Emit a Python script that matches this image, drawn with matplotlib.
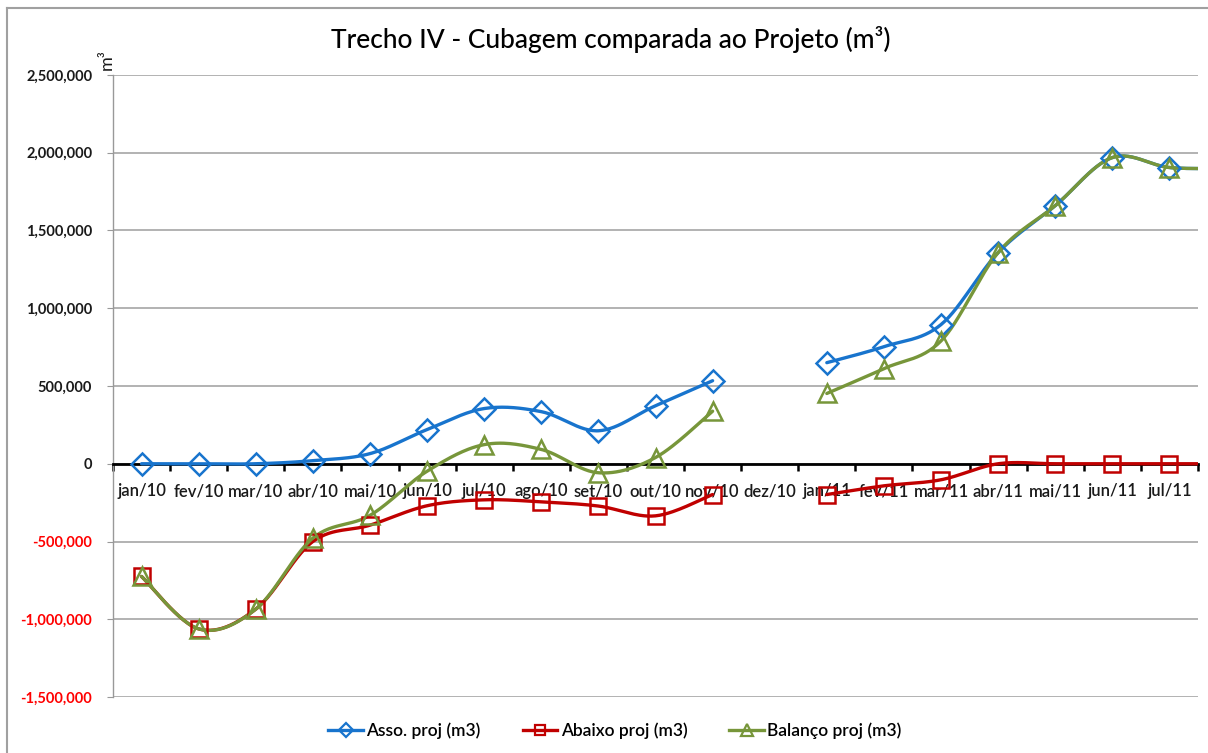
import numpy as np
import matplotlib
matplotlib.use("Agg")
import matplotlib.pyplot as plt
from matplotlib.lines import Line2D
from matplotlib.ticker import FuncFormatter, FixedLocator

# dados (dez/10 sem valor; ago/11 fica fora do eixo, só o início da curva aparece)
MESES = ["jan/10", "fev/10", "mar/10", "abr/10", "mai/10", "jun/10", "jul/10",
         "ago/10", "set/10", "out/10", "nov/10", "dez/10", "jan/11", "fev/11",
         "mar/11", "abr/11", "mai/11", "jun/11", "jul/11", "ago/11"]
ASSO = [0, 0, 0, 20000, 65000, 220000, 355000, 335000, 212000, 373000, 534000,
        np.nan, 650000, 753000, 895000, 1358000, 1660000, 1969000, 1905000, 1900000]
ABAIXO = [-725000, -1062000, -935000, -500000, -395000, -270000, -232000, -245000,
          -272000, -335000, -198000, np.nan, -198000, -142000, -103000, 0, 0, 0, 0, 0]
BALANCO = [-725000, -1062000, -935000, -478000, -332000, -48000, 123000, 92000,
           -58000, 40000, 338000, np.nan, 452000, 612000, 790000, 1358000, 1660000,
           1969000, 1905000, 1900000]

SERIES = [
    ("Asso. proj (m3)", ASSO, "#1874CD", "D", 11),
    ("Abaixo proj (m3)", ABAIXO, "#C00000", "s", 12),
    ("Balanço proj (m3)", BALANCO, "#77963A", "^", 13),
]

FONTE = ["Lato", "DejaVu Sans"]
plt.rcParams["font.family"] = FONTE


def suavizar(xs, ys, n=30):
    # curva suave estilo Excel (Catmull-Rom em Bezier)
    xs = np.asarray(xs, float)
    ys = np.asarray(ys, float)
    if len(xs) < 2:
        return xs, ys
    px = np.concatenate([[xs[0]], xs, [xs[-1]]])
    py = np.concatenate([[ys[0]], ys, [ys[-1]]])
    out_x, out_y = [], []
    t = np.linspace(0, 1, n)
    for i in range(1, len(px) - 2):
        p0 = np.array([px[i], py[i]])
        p3 = np.array([px[i + 1], py[i + 1]])
        c1 = p0 + (p3 - np.array([px[i - 1], py[i - 1]])) / 6
        c2 = p3 - (np.array([px[i + 2], py[i + 2]]) - p0) / 6
        b = ((1 - t) ** 3)[:, None] * p0 + (3 * (1 - t) ** 2 * t)[:, None] * c1 \
            + (3 * (1 - t) * t ** 2)[:, None] * c2 + (t ** 3)[:, None] * p3
        out_x.extend(b[:, 0])
        out_y.extend(b[:, 1])
    return np.array(out_x), np.array(out_y)


fig = plt.figure(figsize=(12.08, 7.53), dpi=100)
ax = fig.add_axes([113 / 1208, 56 / 753, (1198 - 113) / 1208, (697 - 75) / 753])

x = np.arange(len(MESES))
for nome, vals, cor, mk, ms in SERIES:
    v = np.asarray(vals, float)
    ok = ~np.isnan(v)
    # separa os trechos nos meses sem valor
    grupos = []
    atual = []
    for i in range(len(v)):
        if ok[i]:
            atual.append(i)
        elif atual:
            grupos.append(atual)
            atual = []
    if atual:
        grupos.append(atual)
    for g in grupos:
        sx, sy = suavizar(x[g], v[g])
        ax.plot(sx, sy, color=cor, lw=2.4, solid_capstyle="round", zorder=3)
    ax.plot(x[ok], v[ok], ls="none", marker=mk, ms=ms, mfc="none", mec=cor,
            mew=1.8, zorder=4)

ax.set_xlim(-0.5, 18.5)
ax.set_ylim(-1500000, 2500000)
ax.set_yticks(np.arange(-1500000, 2500001, 500000))
ax.yaxis.set_major_formatter(FuncFormatter(lambda v, p: f"{v:,.0f}"))
ax.grid(True, axis="y", color="#A6A6A6", lw=1.2)
ax.set_axisbelow(True)

ax.spines["top"].set_visible(False)
ax.spines["right"].set_visible(False)
ax.spines["left"].set_color("#999999")
ax.spines["left"].set_linewidth(1.0)
ax.spines["bottom"].set_position(("data", 0))
ax.spines["bottom"].set_color("black")
ax.spines["bottom"].set_linewidth(2.0)
ax.spines["bottom"].set_zorder(2.5)

ax.xaxis.set_major_locator(FixedLocator(list(range(19))))
ax.set_xticklabels(MESES[:19])
ax.xaxis.set_minor_locator(FixedLocator([i - 0.5 for i in range(20)]))
ax.tick_params(axis="x", which="major", length=0, pad=14, labelsize=12,
               labelcolor="#1a1a1a")
ax.tick_params(axis="x", which="minor", length=5, width=1.8, color="black",
               direction="out")
ax.tick_params(axis="y", length=4, color="#999999", pad=11, labelsize=10.5)
for lbl in ax.get_xticklabels():
    lbl.set_fontweight("semibold")
for lbl in ax.get_yticklabels():
    lbl.set_fontweight("bold")
for lbl, val in zip(ax.get_yticklabels(), ax.get_yticks()):
    lbl.set_color("#FF0000" if val < 0 else "#1a1a1a")

fig.text(0.506, 0.948, "Trecho IV - Cubagem comparada ao Projeto (m³)",
         ha="center", va="center", fontsize=19, color="black", fontweight="medium")
fig.text(107 / 1208, 1 - 60 / 753, "m³", rotation=90, ha="center", va="center",
         fontsize=13, color="#1a1a1a")

handles = [Line2D([], [], color=c, lw=2.4, marker=m, ms=s * 0.65, mfc="none",
                  mec=c, mew=1.6) for _, _, c, m, s in SERIES]
leg = fig.legend(handles, [s[0] for s in SERIES], loc="center",
                 bbox_to_anchor=(615 / 1208, 1 - 731 / 753), ncol=3, frameon=False,
                 fontsize=12.5, handlelength=2.0, handletextpad=0.2, columnspacing=2.4)
for t in leg.get_texts():
    t.set_fontweight("semibold")

# moldura do gráfico (só esquerda e topo aparecem)
fig.add_artist(Line2D([7 / 1208, 7 / 1208], [0, 1 - 8 / 753], transform=fig.transFigure,
                      color="#A0A0A0", lw=1.5))
fig.add_artist(Line2D([7 / 1208, 1], [1 - 8 / 753, 1 - 8 / 753], transform=fig.transFigure,
                      color="#A0A0A0", lw=1.5))

fig.savefig("out.png", dpi=100)
